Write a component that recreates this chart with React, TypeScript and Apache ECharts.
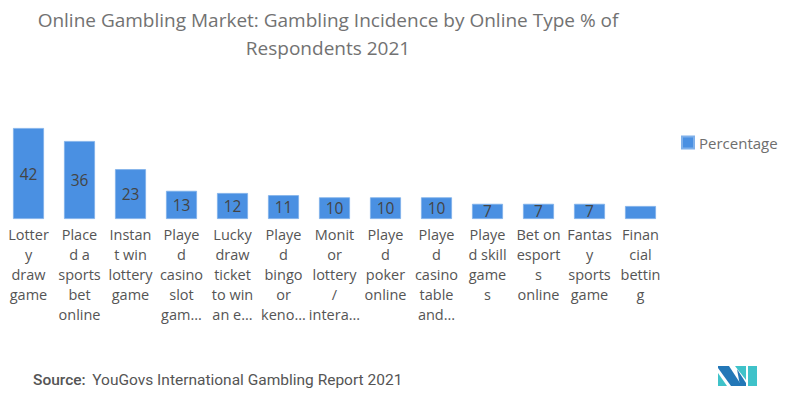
import React, { useEffect, useRef } from "react";
import * as echarts from "echarts";

const categories: string[] = [
  "Lotter\ny\ndraw\ngame",
  "Place\nd a\nsports\nbet\nonline",
  "Instan\nt win\nlottery\ngame",
  "Playe\nd\ncasino\nslot\ngam...",
  "Lucky\ndraw\nticket\nto win\nan e...",
  "Playe\nd\nbingo\nor\nkeno...",
  "Monit\nor\nlottery\n/\nintera...",
  "Playe\nd\npoker\nonline",
  "Playe\nd\ncasino\ntable\nand...",
  "Playe\nd skill\ngame\ns",
  "Bet on\nesport\ns\nonline",
  "Fantas\ny\nsports\ngame",
  "Finan\ncial\nbettin\ng",
];

const percentage: number[] = [42, 36, 23, 13, 12, 11, 10, 10, 10, 7, 7, 7, 6];
const hiddenLabelIndex = 12;

const titleText = "Online Gambling Market: Gambling Incidence by Online Type % of\nRespondents 2021";
const seriesName = "Percentage";

export default function App() {
  const ref = useRef<HTMLDivElement>(null);
  useEffect(() => {
    if (!ref.current) return;
    const chart = echarts.init(ref.current, undefined, { renderer: "svg" });
    const font = "'Open Sans', Lato, sans-serif";
    chart.setOption({
      animation: false,
      title: {
        text: titleText,
        left: 328,
        textAlign: "center",
        top: 6,
        padding: 0,
        textStyle: {
          fontFamily: font,
          fontSize: 19,
          fontWeight: "normal",
          color: "#727272",
          lineHeight: 28,
        },
      },
      legend: {
        data: [seriesName],
        left: 681,
        top: 135,
        padding: 0,
        itemWidth: 12,
        itemHeight: 12,
        itemGap: 8,
        icon: "rect",
        textStyle: { fontFamily: font, fontSize: 15, color: "#6e6e6e" },
      },
      grid: { left: 3, right: 134, top: 128, bottom: 184, containLabel: false },
      xAxis: {
        type: "category",
        data: categories,
        axisLine: { show: false },
        axisTick: { show: false },
        axisLabel: {
          interval: 0,
          margin: 5,
          fontFamily: font,
          fontSize: 14.5,
          lineHeight: 20,
          color: "#555",
          align: "center",
          verticalAlign: "top",
        },
      },
      yAxis: {
        type: "value",
        min: 0,
        max: 42,
        show: false,
        splitLine: { show: false },
      },
      series: [
        {
          name: seriesName,
          type: "bar",
          barWidth: 31,
          data: percentage.map((v, i) =>
            i === hiddenLabelIndex ? { value: v, label: { show: false } } : v
          ),
          itemStyle: { color: "#4a90e2", borderColor: "#7fb0ea", borderWidth: 0.8 },
          label: {
            show: true,
            position: "inside",
            fontFamily: font,
            fontSize: 15.5,
            color: "#444",
          },
        },
      ],
      graphic: [
        {
          type: "text",
          left: 33,
          top: 372,
          style: {
            text: "{b|Source:}  {r|YouGovs International Gambling Report 2021}",
            rich: {
              b: { fontFamily: "Roboto, sans-serif", fontSize: 15.5, fontWeight: 500, fill: "#555" },
              r: { fontFamily: "Roboto, sans-serif", fontSize: 15.5, fill: "#555" },
            },
          },
        },
        {
          type: "group",
          children: [
            { type: "polygon", shape: { points: [[718, 373], [727, 386], [718, 386]] }, style: { fill: "#3fc2c9" } },
            { type: "polygon", shape: { points: [[718, 366], [729, 366], [742, 386], [731, 386], [718, 368]] }, style: { fill: "#2377b7" } },
            { type: "polygon", shape: { points: [[735, 366], [746, 366], [746, 380]] }, style: { fill: "#3fc2c9" } },
            { type: "polygon", shape: { points: [[737, 369], [746, 383], [746, 386], [740, 386]] }, style: { fill: "#2377b7" } },
            { type: "rect", shape: { x: 748, y: 366, width: 9, height: 20 }, style: { fill: "#3fc2c9" } },
          ],
        },
      ],
    });
    return () => chart.dispose();
  }, []);
  return (
    <div
      ref={ref}
      style={{ position: "absolute", left: 0, top: 0, width: 800, height: 403 }}
    />
  );
}
